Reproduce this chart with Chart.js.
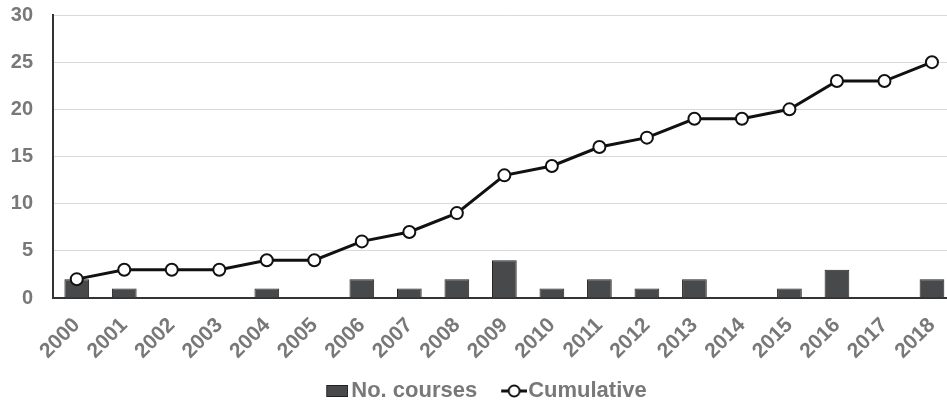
<!DOCTYPE html>
<html>
<head>
<meta charset="utf-8">
<script src="https://cdn.jsdelivr.net/npm/chart.js@4/dist/chart.umd.min.js"></script>
<style>
  html, body { margin: 0; padding: 0; background: #fff; overflow: hidden; }
  .wrap { width: 947px; height: 407px; overflow: hidden; }
  #myChart { display: block; margin-top: -17px; }
</style>
</head>
<body>
<div class="wrap"><canvas id="myChart" width="965" height="429"></canvas></div>
<script>
// datos
const years = ['2000', '2001', '2002', '2003', '2004', '2005', '2006', '2007', '2008', '2009',
  '2010', '2011', '2012', '2013', '2014', '2015', '2016', '2017', '2018'];
const courses = [2, 1, 0, 0, 1, 0, 2, 1, 2, 4, 1, 2, 1, 2, 0, 1, 3, 0, 2];
const cumulative = [2, 3, 3, 3, 4, 4, 6, 7, 9, 13, 14, 16, 17, 19, 19, 20, 23, 23, 25];
const yTicks = [0, 5, 10, 15, 20, 25, 30];

const gray = '#787878';
const barFill = '#48494b';
const fontFamily = '"Liberation Sans", Arial, sans-serif';
const boxW = 22; // ancho reservado para el icono de la leyenda

// iconos de la leyenda (el dibujo va pegado al lado derecho)
const barIcon = document.createElement('canvas');
barIcon.width = boxW + 16; barIcon.height = 14;
let c = barIcon.getContext('2d');
let x0 = barIcon.width - 22;
c.fillStyle = barFill; c.fillRect(x0, 1, 22, 12);
c.strokeStyle = '#222'; c.lineWidth = 1; c.strokeRect(x0 + 0.5, 1.5, 21, 11);

const lineIcon = document.createElement('canvas');
lineIcon.width = boxW + 20; lineIcon.height = 16;
c = lineIcon.getContext('2d');
x0 = lineIcon.width - 26;
c.strokeStyle = '#111'; c.lineWidth = 3;
c.beginPath(); c.moveTo(x0, 8); c.lineTo(x0 + 26, 8); c.stroke();
c.beginPath(); c.arc(x0 + 13, 8, 5.5, 0, Math.PI * 2);
c.fillStyle = '#fff'; c.fill(); c.lineWidth = 2; c.stroke();

const ctx = document.getElementById('myChart').getContext('2d');
new Chart(ctx, {
  data: {
    labels: years,
    datasets: [
      {
        type: 'line',
        label: 'Cumulative',
        data: cumulative,
        borderColor: '#111',
        borderWidth: 3,
        pointRadius: 6,
        pointBackgroundColor: '#fff',
        pointBorderColor: '#111',
        pointBorderWidth: 2,
        tension: 0,
        order: 0,
      },
      {
        type: 'bar',
        label: 'No. courses',
        data: courses,
        backgroundColor: barFill,
        borderColor: '#222',
        borderWidth: 1,
        categoryPercentage: 1,
        barPercentage: 0.52,
        order: 1,
      },
    ],
  },
  options: {
    responsive: false,
    animation: false,
    layout: { padding: 0 },
    scales: {
      x: {
        offset: true,
        grid: { display: false, drawTicks: false },
        border: { display: true, color: '#333', width: 2 },
        ticks: {
          color: gray,
          font: { family: fontFamily, size: 21, weight: 'bold' },
          minRotation: 45,
          maxRotation: 45,
          padding: 15,
          autoSkip: false,
        },
        afterFit: (scale) => { scale.height = 64; },
      },
      y: {
        min: 0,
        max: 30,
        afterBuildTicks: (scale) => { scale.ticks = yTicks.map((v) => ({ value: v })); },
        grid: { color: '#d9d9d9', lineWidth: 1, drawTicks: false },
        border: { display: true, color: '#333', width: 2 },
        ticks: {
          color: gray,
          font: { family: fontFamily, size: 20, weight: 'bold' },
          padding: 20,
        },
        afterFit: (scale) => { scale.width = 53; },
      },
    },
    plugins: {
      legend: {
        position: 'bottom',
        labels: {
          color: gray,
          font: { family: fontFamily, size: 22, weight: 'bold' },
          usePointStyle: true,
          pointStyleWidth: boxW,
          padding: 18,
          generateLabels: (chart) => [
            { text: 'No. courses', pointStyle: barIcon, datasetIndex: 1, fontColor: gray, lineWidth: 0 },
            { text: 'Cumulative', pointStyle: lineIcon, datasetIndex: 0, fontColor: gray, lineWidth: 0 },
          ],
        },
      },
      tooltip: { enabled: false },
    },
  },
});
</script>
</body>
</html>
